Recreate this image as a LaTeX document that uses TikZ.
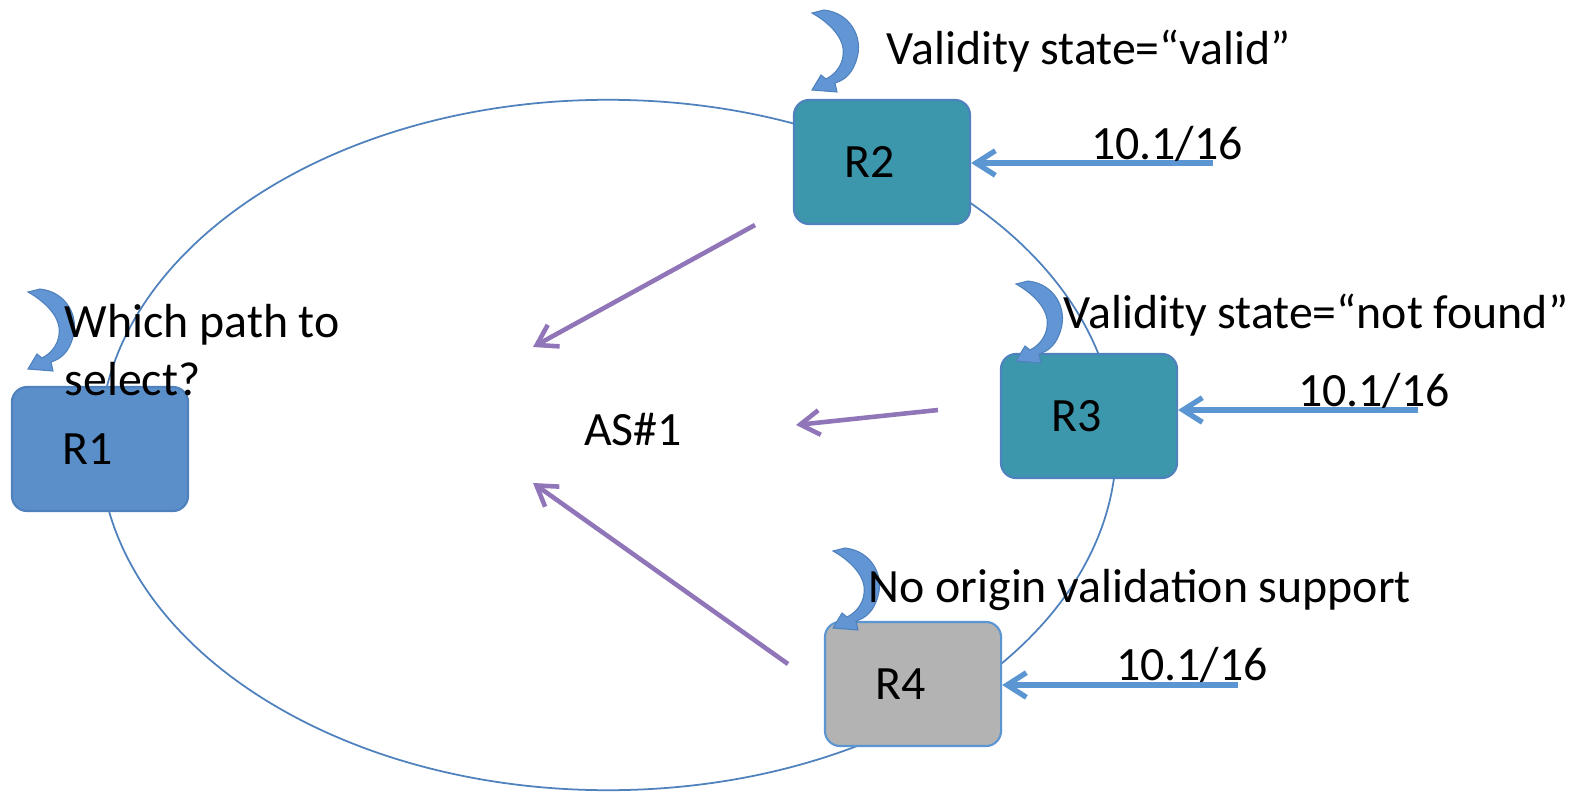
\documentclass[tikz,border=0pt]{standalone}
\usepackage{fontspec}
\setmainfont{Carlito}
\usepackage{tikz}
\usetikzlibrary{arrows.meta,positioning}

\definecolor{ringblue}{RGB}{79,129,189}
\definecolor{lightblue}{RGB}{91,143,201}
\definecolor{tealbox}{RGB}{60,150,172}
\definecolor{greybox}{RGB}{179,179,179}
\definecolor{feedblue}{RGB}{91,150,210}
\definecolor{curlblue}{RGB}{98,149,211}
\definecolor{arrowpurple}{RGB}{144,117,185}

\tikzset{
  router/.style={draw=ringblue, line width=0.6pt, rounded corners=4.3pt,
    minimum width=1.76cm, minimum height=1.24cm, inner sep=0pt,
    execute at end node={\hspace{0.24cm}}},
  feed/.style={feedblue, line width=1.5pt, -{Straight Barb[length=5.5pt,width=7pt]}},
  toas/.style={arrowpurple, line width=1.3pt, -{Straight Barb[length=5.5pt,width=7pt]}},
  ring/.style={ringblue, line width=0.5pt},
  txt/.style={inner sep=0pt, font=\fontsize{13.6}{16.5}\selectfont}
}

% curled arrow above a router, #1 = top of its tail
\newcommand{\curlarrow}[1]{%
  \filldraw[fill=curlblue, draw=ringblue, line width=0.3pt, shift={#1}]
    (0,0) -- (12,-3) .. controls (39,0) and (51,25) .. (45,45)
    .. controls (41,60) and (33,67) .. (23,70) -- (25,79) -- (0,77) -- (9,62) -- (14,66)
    .. controls (24,61) and (33,50) .. (31,35) .. controls (29,22) and (16,9) .. (0,0) -- cycle;}

\begin{document}
\begin{tikzpicture}[x=0.01cm, y=-0.01cm]
  \useasboundingbox (0,0) rectangle (1570,791);

  % AS ring
  \draw[ring] (608,445) ellipse [x radius=5.08cm, y radius=3.45cm];

  % routers
  \node[router, fill=lightblue] (r1) at (100,449) {\fontsize{13.6}{16}\selectfont R1};
  \node[router, fill=tealbox]   (r2) at (882,162) {\fontsize{13.6}{16}\selectfont R2};
  \node[router, fill=tealbox]   (r3) at (1089,416) {\fontsize{13.6}{16}\selectfont R3};
  \node[router, fill=greybox, draw=feedblue] (r4) at (913,684) {\fontsize{13.6}{16}\selectfont R4};

  \node[txt] (as) at (633,430) {AS\#1};

  % announcements from outside
  \coordinate (in2) at (1213,163);
  \coordinate (in3) at (1418,410);
  \coordinate (in4) at (1238,685);
  \draw[feed] (in2) -- (r2.east |- in2);
  \draw[feed] (in3) -- (r3.east |- in3);
  \draw[feed] (in4) -- (r4.east |- in4);
  \node[txt] (p2) at (1167,144) {10.1/16};
  \node[txt] (p3) at (1374,391) {10.1/16};
  \node[txt] (p4) at (1192,665) {10.1/16};

  % propagation into the AS
  \coordinate (s2) at (755,225);  \coordinate (e2) at (533,347);
  \coordinate (s3) at (938,410);  \coordinate (e3) at (796,425);
  \coordinate (s4) at (788,664);  \coordinate (e4) at (533,483);
  \draw[toas] (s2) -- (e2);
  \draw[toas] (s3) -- (e3);
  \draw[toas] (s4) -- (e4);

  % curled arrows
  \curlarrow{(812,13)}
  \curlarrow{(28,292)}
  \curlarrow{(1016,284)}
  \curlarrow{(833,551)}

  % states
  \node[txt, anchor=west] (v2) at (886,51) {Validity state=“valid”};
  \node[txt, anchor=west] (v3) at (1063,315) {Validity state=“not found”};
  \node[txt, anchor=west] (v4) at (868,590) {No origin validation support};
  \node[txt, anchor=west, align=left] (q1) at (64,350) {Which path to\\select?};
\end{tikzpicture}
\end{document}
